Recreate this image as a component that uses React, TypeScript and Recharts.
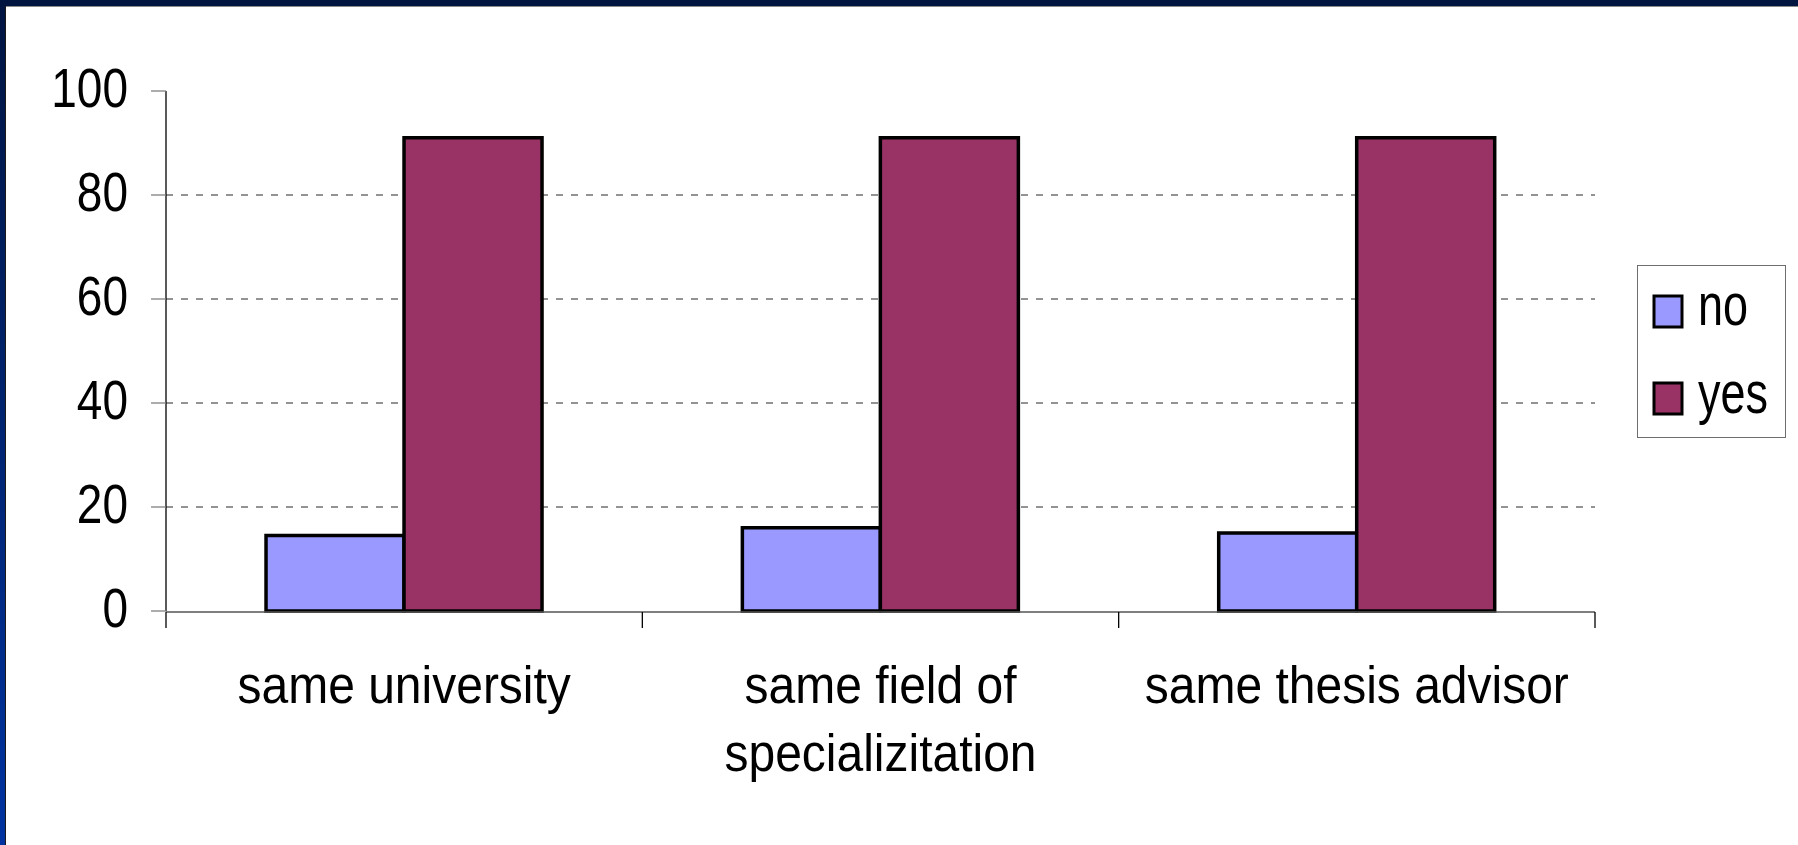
import React from "react";
import { BarChart, Bar, XAxis, YAxis, CartesianGrid, Legend } from "recharts";

const categories = ["same university", "same field of\nspecializitation", "same thesis advisor"];
const noValues = [14.5, 16, 15];
const yesValues = [91, 91, 91];
const yTicks = [0, 20, 40, 60, 80, 100];
const gridValues = [20, 40, 60, 80];
const boundaryTicks = [0, 1, 2, 3];

const data = categories.map((c, i) => ({ name: c, no: noValues[i], yes: yesValues[i], pos: i }));

const FONT = "'Liberation Sans', Arial, Helvetica, sans-serif";

const YTick = (props: any) => {
  const { x, y, payload } = props;
  return (
    <g transform={`translate(${x},${y})`}>
      <text transform="scale(1,1.22)" textAnchor="end" dy={13} fontSize={46} fontFamily={FONT} fill="#000">
        {payload.value}
      </text>
    </g>
  );
};

const XTick = (props: any) => {
  const { x, y, payload } = props;
  const lines = String(payload.value).split("\n");
  return (
    <g transform={`translate(${x},${y})`}>
      {lines.map((l, i) => (
        <text
          key={i}
          transform={`translate(0,${92 + i * 68}) scale(1,1.07)`}
          textAnchor="middle"
          fontSize={48}
          fontFamily={FONT}
          fill="#000"
        >
          {l}
        </text>
      ))}
    </g>
  );
};

const Empty = () => <g />;

const renderLegend = (props: any) => {
  const payload = props.payload || [];
  return (
    <div style={{ width: 149, height: 173, boxSizing: "border-box", border: "1.5px solid #6e6e6e", background: "#fff" }}>
      <svg width={146} height={170} style={{ display: "block" }}>
        {payload.map((p: any, i: number) => (
          <g key={i}>
            <rect x={16} y={30 + i * 87} width={28} height={31} fill={p.color} stroke="#000" strokeWidth={3} />
            <text transform={`translate(60,${59 + i * 88}) scale(1,1.3)`} fontSize={45} fontFamily={FONT} fill="#000">
              {p.value}
            </text>
          </g>
        ))}
      </svg>
    </div>
  );
};

export default function App() {
  return (
    <div style={{ position: "fixed", left: 0, top: 0, width: 1798, height: 845, background: "#fff", overflow: "hidden" }}>
      <div style={{ position: "absolute", left: 0, top: 0, width: 1798, height: 6, background: "#001440" }} />
      <div style={{ position: "absolute", left: 0, top: 6, width: 1798, height: 1, background: "#8a8a8a" }} />
      <div style={{ position: "absolute", left: 0, top: 0, width: 5, height: 845, background: "linear-gradient(to bottom, #001440, #0033a0)" }} />
      <div style={{ position: "absolute", left: 5, top: 6, width: 1, height: 839, background: "#1a1a1a" }} />
      <div style={{ position: "absolute", left: 0, top: 0 }}>
        <BarChart
          width={1798}
          height={845}
          data={data}
          margin={{ top: 91, right: 54, left: 0, bottom: 232 }}
          barCategoryGap="21%"
          barGap={0}
        >
          <CartesianGrid horizontal vertical={false} horizontalValues={gridValues} stroke="#707070" strokeWidth={1.3} strokeDasharray="7 8" />
          <XAxis
            xAxisId="b"
            dataKey="pos"
            type="number"
            domain={[0, 3]}
            allowDataOverflow
            ticks={boundaryTicks}
            interval={0}
            height={1}
            tickSize={16}
            tick={Empty}
            axisLine={{ stroke: "#555", strokeWidth: 1.3 }}
            tickLine={{ stroke: "#000", strokeWidth: 1.3 }}
          />
          <XAxis
            dataKey="name"
            height={1}
            tickSize={0}
            tickMargin={0}
            axisLine={false}
            tickLine={false}
            interval={0}
            tick={XTick}
          />
          <YAxis
            width={166}
            domain={[0, 100]}
            ticks={yTicks}
            interval={0}
            tickSize={15}
            tickMargin={23}
            tick={YTick}
            axisLine={{ stroke: "#000", strokeWidth: 1.3 }}
            tickLine={{ stroke: "#808080", strokeWidth: 1.3 }}
          />
          <Legend
            layout="vertical"
            align="right"
            verticalAlign="middle"
            content={renderLegend}
            wrapperStyle={{ left: 1637, top: 265, width: 149, height: 173, right: "auto" }}
          />
          <Bar dataKey="no" name="no" fill="#9999FF" stroke="#000" strokeWidth={3.5} isAnimationActive={false} />
          <Bar dataKey="yes" name="yes" fill="#993366" stroke="#000" strokeWidth={3.5} isAnimationActive={false} />
        </BarChart>
      </div>
    </div>
  );
}
